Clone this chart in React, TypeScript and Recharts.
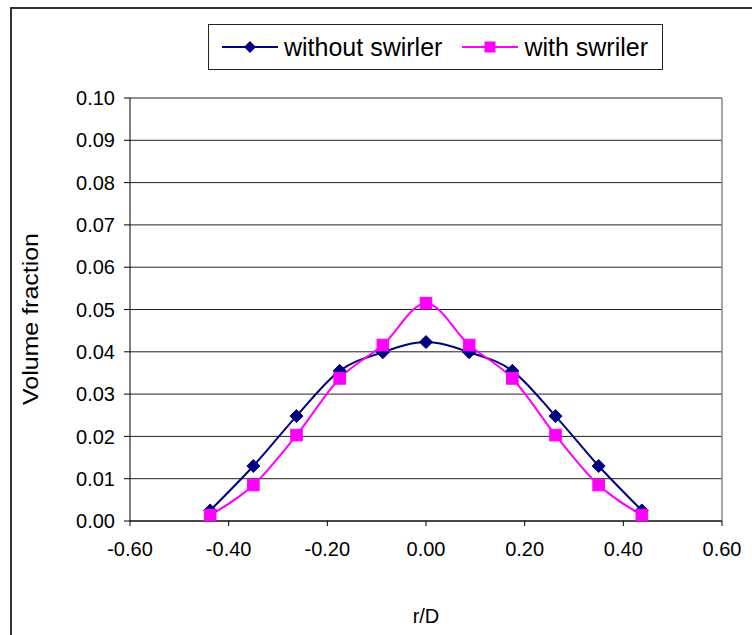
import React from 'react';
import { LineChart, Line, XAxis, YAxis, CartesianGrid, ReferenceLine, Label } from 'recharts';

// r/D positions
const rOverD = [-0.4375, -0.35, -0.2625, -0.175, -0.0875, 0, 0.0875, 0.175, 0.2625, 0.35, 0.4375];
// volume fraction, without swirler
const withoutSwirler = [0.0025, 0.013, 0.0248, 0.0355, 0.0399, 0.0423, 0.0399, 0.0355, 0.0248, 0.013, 0.0025];
// volume fraction, with swriler (sic)
const withSwriler = [0.0014, 0.0085, 0.0203, 0.0337, 0.0416, 0.0515, 0.0416, 0.0337, 0.0203, 0.0085, 0.0014];

const xTicks = [-0.6, -0.4, -0.2, 0, 0.2, 0.4, 0.6];
const yTicks = [0, 0.01, 0.02, 0.03, 0.04, 0.05, 0.06, 0.07, 0.08, 0.09, 0.1];

const seriesNames = ['without swirler', 'with swriler'];
const NAVY = '#000080';
const PINK = '#FF00FF';
const FONT = '"Liberation Sans", Arial, sans-serif';

const data = rOverD.map((r, i) => ({ r, a: withoutSwirler[i], b: withSwriler[i] }));

const Diamond = (props: any) => {
    const { cx, cy } = props;
    if (cx == null || cy == null) return null;
    const s = 6.5;
    return <polygon points={`${cx},${cy - s} ${cx + s},${cy} ${cx},${cy + s} ${cx - s},${cy}`} fill={NAVY} stroke={NAVY} />;
};

const Square = (props: any) => {
    const { cx, cy } = props;
    if (cx == null || cy == null) return null;
    const s = 5.8;
    return <rect x={cx - s} y={cy - s} width={s * 2} height={s * 2} fill={PINK} stroke={PINK} />;
};

const LegendBox = () => (
    <div style={{
        position: 'absolute', left: 208, top: 24, width: 453, height: 44,
        border: '1px solid #222', background: '#fff', fontFamily: FONT, fontSize: 25,
        display: 'flex', alignItems: 'center', color: '#000'
    }}>
        <svg width={60} height={20} style={{ marginLeft: 13 }}>
            <line x1={0} y1={10} x2={56} y2={10} stroke={NAVY} strokeWidth={2} />
            <polygon points="28,4 34,10 28,16 22,10" fill={NAVY} />
        </svg>
        <span style={{ marginLeft: 2 }}>{seriesNames[0]}</span>
        <svg width={58} height={20} style={{ marginLeft: 20 }}>
            <line x1={0} y1={10} x2={56} y2={10} stroke={PINK} strokeWidth={2} />
            <rect x={22.5} y={4.5} width={11} height={11} fill={PINK} />
        </svg>
        <span style={{ marginLeft: 4 }}>{seriesNames[1]}</span>
    </div>
);

export default function App() {
    return (
        <div style={{ position: 'absolute', left: 0, top: 0, width: 752, height: 635, overflow: 'hidden', background: '#fff' }}>
            {/* outer chart frame, cropped on the right and bottom */}
            <div style={{ position: 'absolute', left: 10, top: 7, width: 800, height: 700, border: '2px solid #333' }} />
            <div style={{ position: 'absolute', left: 0, top: 0 }}>
                <LineChart width={752} height={635} data={data} margin={{ top: 98, right: 30, bottom: 10, left: 0 }}>
                    <CartesianGrid vertical={false} stroke="#222" strokeOpacity={1} />
                    <ReferenceLine x={0.6} stroke="#888" strokeWidth={1.5} />
                    <XAxis
                        dataKey="r"
                        type="number"
                        domain={[-0.6, 0.6]}
                        ticks={xTicks}
                        tickFormatter={(v: number) => v.toFixed(2)}
                        height={104}
                        stroke="#000"
                        tickSize={5}
                        tickMargin={16}
                        tick={{ fill: '#000', fontSize: 20, fontFamily: FONT }}
                    >
                        <Label value="r/D" position="insideBottom" offset={2} style={{ fill: '#000', fontSize: 20, fontFamily: FONT }} />
                    </XAxis>
                    <YAxis
                        type="number"
                        domain={[0, 0.1]}
                        ticks={yTicks}
                        tickFormatter={(v: number) => v.toFixed(2)}
                        width={130}
                        stroke="#000"
                        tickSize={6}
                        tickMargin={9}
                        tick={{ fill: '#000', fontSize: 20, fontFamily: FONT }}
                    >
                        <Label
                            content={() => (
                                <text x={30} y={319} transform="rotate(-90 30 319)" textAnchor="middle" dominantBaseline="central"
                                    textLength={172} lengthAdjust="spacingAndGlyphs"
                                    style={{ fill: '#000', fontSize: 22, fontFamily: FONT }}>
                                    Volume fraction
                                </text>
                            )}
                        />
                    </YAxis>
                    <Line type="monotone" dataKey="a" name={seriesNames[0]} stroke={NAVY} strokeWidth={2} dot={<Diamond />} activeDot={false} isAnimationActive={false} />
                    <Line type="monotone" dataKey="b" name={seriesNames[1]} stroke={PINK} strokeWidth={2} dot={<Square />} activeDot={false} isAnimationActive={false} />
                </LineChart>
            </div>
            <LegendBox />
        </div>
    );
}
